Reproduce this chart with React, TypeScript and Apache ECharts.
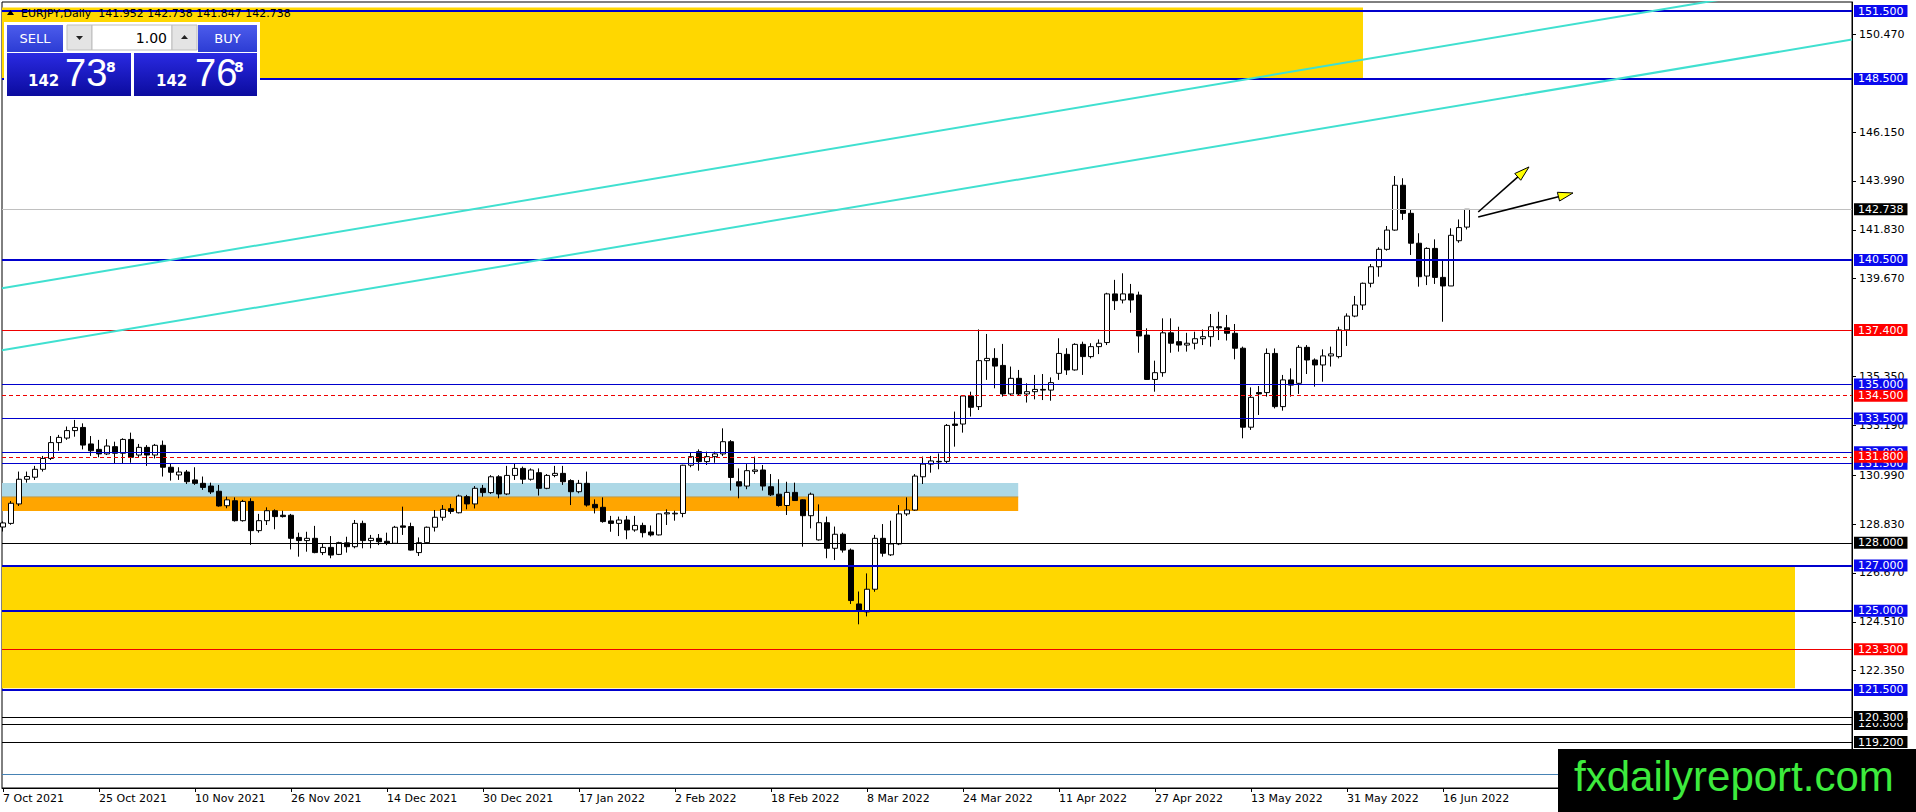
import React, { useEffect, useRef } from "react";
import * as echarts from "echarts";

// ---------- DATA ----------
const opens = [
  128.70, 128.86, 129.72, 130.81, 130.90, 131.25, 131.73, 132.43, 132.63, 132.96,
  133.10, 132.37, 132.13, 131.93, 132.25, 131.96, 132.57, 131.88, 132.22, 131.88,
  132.31, 131.34, 131.00, 131.13, 130.78, 130.63, 130.51, 130.28, 129.64, 129.86,
  128.98, 129.83, 128.54, 128.98, 129.42, 129.22, 129.22, 128.24, 128.10, 128.20,
  127.57, 127.80, 127.49, 128.00, 127.83, 128.86, 128.10, 128.20, 128.07, 127.98,
  128.75, 128.72, 127.57, 128.01, 128.69, 129.13, 129.51, 129.33, 130.04, 129.72,
  130.41, 130.22, 130.92, 130.16, 130.98, 131.29, 130.81, 131.10, 130.41, 130.98,
  131.07, 130.75, 130.26, 130.63, 129.70, 129.57, 128.97, 128.86, 129.01, 128.57,
  128.77, 128.48, 128.35, 129.28, 129.28, 129.30, 131.43, 132.03, 131.59, 131.81,
  131.93, 132.47, 130.70, 130.51, 131.16, 131.22, 130.48, 130.15, 129.65, 130.23,
  129.90, 129.20, 128.13, 128.89, 127.76, 128.38, 127.68, 125.30, 124.95, 125.95,
  128.20, 127.47, 127.95, 129.28, 129.45, 130.92, 131.48, 131.58, 131.60, 133.25,
  133.25, 134.49, 134.02, 136.05, 136.15, 135.84, 134.58, 135.27, 134.58, 134.68,
  134.78, 134.75, 135.49, 136.33, 135.64, 136.77, 136.23, 136.67, 136.85, 139.00,
  138.73, 139.00, 138.95, 137.18, 135.22, 135.52, 137.28, 136.89, 136.74, 136.82,
  137.02, 137.11, 137.55, 137.50, 137.26, 136.60, 133.11, 134.64, 134.64, 136.37,
  134.02, 135.20, 135.05, 136.64, 136.08, 135.86, 136.26, 136.23, 137.41, 138.02,
  138.51, 139.47, 140.20, 140.97, 141.82, 143.80, 142.56, 141.24, 139.79, 141.01,
  139.73, 139.35, 141.35, 141.952,
];
const highs = [
  128.95, 129.85, 131.15, 131.15, 131.40, 131.84, 132.72, 132.77, 133.14, 133.43,
  133.28, 132.72, 132.55, 132.58, 132.47, 132.62, 132.87, 132.37, 132.32, 132.37,
  132.52, 131.51, 131.34, 131.22, 131.34, 130.93, 130.66, 130.56, 130.04, 130.01,
  129.90, 129.97, 129.28, 129.57, 129.48, 129.42, 129.28, 128.45, 128.49, 128.75,
  127.98, 128.30, 128.05, 128.27, 129.01, 128.98, 128.35, 128.39, 128.45, 128.75,
  129.60, 128.89, 128.24, 128.72, 129.45, 129.67, 129.72, 130.13, 130.12, 130.51,
  130.56, 130.99, 130.99, 131.40, 131.51, 131.37, 131.29, 131.29, 131.04, 131.40,
  131.40, 130.81, 130.78, 131.15, 129.92, 130.01, 129.19, 129.16, 129.19, 129.19,
  128.89, 128.77, 129.30, 129.48, 129.42, 131.45, 131.98, 132.13, 132.03, 132.03,
  133.06, 132.54, 131.29, 131.48, 131.81, 131.44, 131.04, 130.81, 130.70, 130.66,
  129.92, 130.22, 129.70, 129.16, 128.72, 128.45, 127.75, 125.85, 126.65, 128.35,
  128.83, 128.98, 129.67, 130.01, 131.04, 131.81, 131.84, 131.95, 133.25, 133.80,
  134.53, 134.68, 137.43, 137.23, 136.60, 136.79, 135.79, 135.64, 135.05, 135.42,
  135.46, 135.31, 137.04, 136.60, 136.82, 136.89, 136.82, 136.99, 139.05, 139.62,
  139.91, 139.44, 139.10, 137.48, 136.05, 137.92, 137.92, 137.55, 137.28, 137.33,
  137.43, 138.11, 138.21, 138.07, 137.67, 136.67, 134.87, 134.93, 136.59, 136.59,
  135.42, 135.71, 136.74, 136.74, 136.15, 136.55, 136.67, 137.55, 138.14, 138.91,
  139.50, 140.32, 141.06, 142.00, 144.21, 144.11, 142.71, 141.68, 141.06, 141.41,
  140.47, 141.90, 142.29, 142.738,
];
const lows = [
  128.50, 128.80, 129.63, 130.66, 130.78, 131.15, 131.66, 132.07, 132.55, 132.69,
  132.13, 131.84, 131.78, 131.88, 131.49, 131.49, 131.54, 131.78, 131.40, 131.73,
  130.93, 130.75, 130.78, 130.60, 130.56, 130.34, 130.16, 129.60, 129.53, 128.94,
  128.94, 127.91, 128.45, 128.79, 128.60, 129.12, 127.71, 127.39, 127.61, 127.54,
  127.46, 127.32, 127.46, 127.57, 127.76, 127.76, 127.76, 127.90, 127.90, 127.95,
  128.35, 127.66, 127.42, 127.98, 128.50, 128.98, 129.28, 129.30, 129.48, 129.52,
  130.04, 130.16, 129.97, 130.11, 130.78, 130.60, 130.75, 130.09, 130.37, 130.90,
  130.56, 129.67, 130.19, 129.60, 129.30, 128.89, 128.49, 128.30, 128.16, 128.49,
  128.24, 128.28, 128.33, 128.79, 128.98, 129.13, 131.34, 131.19, 131.44, 131.54,
  131.84, 130.31, 129.97, 130.37, 131.04, 130.31, 130.07, 129.60, 129.23, 129.87,
  127.83, 128.64, 128.10, 127.32, 127.24, 127.57, 125.30, 124.40, 124.75, 125.84,
  127.39, 127.42, 127.90, 129.19, 129.42, 130.60, 131.10, 131.25, 131.50, 132.25,
  132.87, 133.58, 133.87, 135.20, 134.83, 134.46, 134.53, 134.49, 134.20, 134.34,
  134.31, 134.28, 135.20, 135.42, 135.61, 135.42, 136.15, 136.34, 136.74, 138.29,
  138.58, 138.17, 136.40, 135.20, 134.68, 135.34, 136.40, 136.45, 136.45, 136.55,
  136.74, 136.67, 136.96, 136.94, 136.11, 132.62, 132.99, 133.65, 134.46, 133.94,
  133.84, 134.46, 134.58, 135.46, 134.90, 135.12, 135.79, 136.15, 136.70, 137.97,
  138.29, 139.29, 139.76, 140.91, 141.79, 142.27, 140.72, 139.32, 139.39, 139.44,
  137.77, 139.35, 141.26, 141.847,
];
const closes = [
  128.88, 129.75, 130.81, 130.93, 131.25, 131.73, 132.43, 132.66, 132.96, 133.10,
  132.32, 132.07, 131.93, 132.28, 131.96, 132.57, 131.78, 132.22, 131.88, 132.31,
  131.34, 131.12, 131.13, 130.70, 130.63, 130.45, 130.25, 129.63, 129.90, 128.98,
  129.83, 128.54, 128.98, 129.42, 129.16, 129.16, 128.20, 128.10, 128.20, 127.57,
  127.80, 127.46, 128.01, 127.83, 128.86, 128.10, 128.20, 128.05, 127.98, 128.69,
  128.69, 127.68, 128.01, 128.69, 129.13, 129.48, 129.39, 130.07, 129.72, 130.41,
  130.22, 130.92, 130.16, 130.98, 131.29, 130.81, 131.22, 130.41, 130.98, 131.07,
  130.70, 130.26, 130.63, 129.67, 129.55, 128.94, 128.86, 129.01, 128.57, 128.77,
  128.45, 128.35, 129.28, 129.33, 129.31, 131.43, 131.81, 131.59, 131.81, 131.93,
  132.47, 130.89, 130.51, 131.19, 131.22, 130.51, 130.12, 129.65, 130.23, 129.87,
  129.20, 130.15, 128.89, 127.76, 128.38, 127.68, 125.45, 125.00, 125.95, 128.20,
  127.54, 127.95, 129.28, 129.45, 130.95, 131.48, 131.62, 131.60, 133.19, 133.19,
  134.49, 133.99, 136.05, 136.15, 135.81, 134.58, 135.27, 134.58, 134.68, 134.78,
  134.75, 135.08, 136.37, 135.64, 136.77, 136.23, 136.67, 136.82, 139.00, 138.70,
  139.00, 138.73, 137.14, 135.22, 135.52, 137.28, 136.82, 136.74, 136.82, 137.02,
  137.11, 137.55, 137.50, 137.26, 136.60, 133.11, 134.43, 134.58, 136.37, 134.02,
  135.20, 134.97, 136.64, 136.08, 135.86, 136.26, 136.35, 137.41, 138.02, 138.51,
  139.47, 140.20, 140.97, 141.82, 143.80, 142.56, 141.24, 139.76, 141.01, 139.73,
  139.35, 141.59, 141.93, 142.738,
];

// date labels every 12 bars
const dateIdx = [0, 12, 24, 36, 48, 60, 72, 84, 96, 108, 120, 132, 144, 156, 168, 180];
const dateLabels = [
  "7 Oct 2021", "25 Oct 2021", "10 Nov 2021", "26 Nov 2021", "14 Dec 2021", "30 Dec 2021",
  "17 Jan 2022", "2 Feb 2022", "18 Feb 2022", "8 Mar 2022", "24 Mar 2022", "11 Apr 2022",
  "27 Apr 2022", "13 May 2022", "31 May 2022", "16 Jun 2022",
];

// price scale tick labels
const priceTicks = [150.47, 146.15, 143.99, 141.83, 139.67, 135.35, 133.19, 130.99, 128.83, 126.67, 124.51, 122.35];

// horizontal levels: [price, kind]
const levelPrices = [151.5, 148.5, 140.5, 137.4, 135.0, 134.5, 133.5, 132.0, 131.5, 131.8, 128.0, 127.0, 125.0, 123.3, 121.5, 120.0, 120.3, 119.2, 117.79, 142.738];
const levelKinds = ["blueThick", "blueThick", "blueThick", "red", "blue", "redDash", "blue", "blue", "blue", "redDash", "black", "blueThick", "blueThick", "red", "blueThick", "black", "black", "black", "steel", "current"];

// zones: [fromBar, toBar, highPrice, lowPrice, kind]
const zoneFromBar = [-0.125, -0.125, -0.125, -0.125];
const zoneToBar = [170, 224, 126.9, 126.9];
const zoneHigh = [151.66, 127.0, 130.64, 130.03];
const zoneLow = [148.5, 121.58, 130.03, 129.41];
const zoneKinds = ["yellow", "yellow", "lightblue", "orange"];

// trendlines: bar index / price at both ends
const trendFromBar = [-0.125, -0.125];
const trendToBar = [231.125, 231.125];
const trendFromPrice = [139.25, 136.51];
const trendToPrice = [152.98, 150.24];

// arrows: bar index / price at both ends
const arrowFromBar = [184.4, 184.4];
const arrowFromPrice = [142.62, 142.40];
const arrowToBar = [190.75, 196.25];
const arrowToPrice = [144.61, 143.46];

const FONT = '"DejaVu Sans", sans-serif';

const kindStyle: Record<string, { line: string; width: number; type: string; bg: string | null }> = {
  blueThick: { line: "#0000CD", width: 2, type: "solid", bg: "#0A0AEE" },
  blue: { line: "#0000CD", width: 1, type: "solid", bg: "#0A0AEE" },
  red: { line: "#EE0000", width: 1, type: "solid", bg: "#FF0000" },
  redDash: { line: "#EE0000", width: 1, type: "dashed", bg: "#FF0000" },
  black: { line: "#000000", width: 1, type: "solid", bg: "#000000" },
  steel: { line: "#4682B4", width: 1, type: "solid", bg: null },
  current: { line: "#C0C0C0", width: 1, type: "solid", bg: "#000000" },
};
const zoneColor: Record<string, string> = {
  yellow: "#FFD700",
  lightblue: "#ADD8E6",
  orange: "#FFA500",
};

export default function App() {
  const ref = useRef<HTMLDivElement>(null);

  useEffect(() => {
    if (!ref.current) return;
    const chart = echarts.init(ref.current, null, { renderer: "svg" });

    const candleData = opens.map((o, i) => [i, o, closes[i], lows[i], highs[i]]);

    const levelData = levelPrices.map((p, i) => {
      const st = kindStyle[levelKinds[i]];
      return {
        yAxis: p,
        lineStyle: { color: st.line, width: st.width, type: st.type === "dashed" ? [4, 3] : "solid" },
        label: st.bg
          ? {
              show: true,
              position: "end",
              distance: 2,
              formatter: p.toFixed(3),
              backgroundColor: st.bg,
              color: "#fff",
              padding: [1, 4, 0, 4],
              fontSize: 11,
              lineHeight: 11,
              fontFamily: FONT,
            }
          : { show: false },
      };
    });

    const zoneData = zoneKinds.map((k, i) => [
      { coord: [zoneFromBar[i], zoneHigh[i]], itemStyle: { color: zoneColor[k], opacity: 1 } },
      { coord: [zoneToBar[i], zoneLow[i]] },
    ]);

    const trendSeries = trendFromBar.map((x0, i) => ({
      type: "line",
      data: [
        [x0, trendFromPrice[i]],
        [trendToBar[i], trendToPrice[i]],
      ],
      symbol: "none",
      lineStyle: { color: "#40E0D0", width: 2 },
      clip: true,
      silent: true,
      z: 5,
    }));

    const arrowData = arrowFromBar.map((x0, i) => [x0, arrowFromPrice[i], arrowToBar[i], arrowToPrice[i]]);

    const panelFontSmall = FONT;
    const priceFont = '"Liberation Sans Narrow", "Liberation Sans", sans-serif';

    const graphic: any[] = [
      // header
      {
        type: "polygon",
        z: 100,
        shape: { points: [[7, 15], [14, 15], [10.5, 10]] },
        style: { fill: "#000" },
      },
      {
        type: "text",
        z: 100,
        x: 21,
        y: 13,
        style: {
          text: "EURJPY,Daily  141.952 142.738 141.847 142.738",
          font: `11px ${FONT}`,
          fill: "#000",
          verticalAlign: "middle",
        },
      },
      // one-click panel
      { type: "rect", z: 100, shape: { x: 4, y: 22, width: 256, height: 76 }, style: { fill: "#fff" } },
      {
        type: "rect",
        z: 101,
        shape: { x: 7, y: 25, width: 56, height: 27 },
        style: {
          fill: new echarts.graphic.LinearGradient(0, 0, 0, 1, [
            { offset: 0, color: "#4c5cec" },
            { offset: 1, color: "#2c3cd4" },
          ]),
        },
      },
      {
        type: "text",
        z: 102,
        x: 35,
        y: 38,
        style: { text: "SELL", font: `13px ${panelFontSmall}`, fill: "#fff", align: "center", verticalAlign: "middle" },
      },
      { type: "rect", z: 101, shape: { x: 67, y: 25, width: 25, height: 25 }, style: { fill: "#E4E4E4", stroke: "#BDBDBD", lineWidth: 1 } },
      { type: "polygon", z: 102, shape: { points: [[76, 36], [83, 36], [79.5, 40]] }, style: { fill: "#222" } },
      { type: "rect", z: 101, shape: { x: 92, y: 25, width: 80, height: 25 }, style: { fill: "#fff", stroke: "#BDBDBD", lineWidth: 1 } },
      {
        type: "text",
        z: 102,
        x: 167,
        y: 37.5,
        style: { text: "1.00", font: `14px ${panelFontSmall}`, fill: "#000", align: "right", verticalAlign: "middle" },
      },
      { type: "rect", z: 101, shape: { x: 172, y: 25, width: 25, height: 25 }, style: { fill: "#E4E4E4", stroke: "#BDBDBD", lineWidth: 1 } },
      { type: "polygon", z: 102, shape: { points: [[181, 39], [188, 39], [184.5, 35]] }, style: { fill: "#222" } },
      {
        type: "rect",
        z: 101,
        shape: { x: 198, y: 25, width: 59, height: 27 },
        style: {
          fill: new echarts.graphic.LinearGradient(0, 0, 0, 1, [
            { offset: 0, color: "#4c5cec" },
            { offset: 1, color: "#2c3cd4" },
          ]),
        },
      },
      {
        type: "text",
        z: 102,
        x: 227.5,
        y: 38,
        style: { text: "BUY", font: `13px ${panelFontSmall}`, fill: "#fff", align: "center", verticalAlign: "middle" },
      },
      {
        type: "rect",
        z: 101,
        shape: { x: 7, y: 53, width: 124, height: 43 },
        style: {
          fill: new echarts.graphic.LinearGradient(0, 0, 0, 1, [
            { offset: 0, color: "#2a2ae2" },
            { offset: 1, color: "#0b0b9e" },
          ]),
        },
      },
      {
        type: "rect",
        z: 101,
        shape: { x: 134, y: 53, width: 123, height: 43 },
        style: {
          fill: new echarts.graphic.LinearGradient(0, 0, 0, 1, [
            { offset: 0, color: "#2a2ae2" },
            { offset: 1, color: "#0b0b9e" },
          ]),
        },
      },
      { type: "text", z: 102, x: 28, y: 88, style: { text: "142", font: `bold 15px ${panelFontSmall}`, fill: "#fff", verticalAlign: "bottom" } },
      { type: "text", z: 102, x: 65, y: 92, style: { text: "73", font: `38px ${priceFont}`, fill: "#fff", verticalAlign: "bottom" } },
      { type: "text", z: 102, x: 106, y: 60, style: { text: "8", font: `bold 14px ${panelFontSmall}`, fill: "#fff", verticalAlign: "top" } },
      { type: "text", z: 102, x: 156, y: 88, style: { text: "142", font: `bold 15px ${panelFontSmall}`, fill: "#fff", verticalAlign: "bottom" } },
      { type: "text", z: 102, x: 195, y: 92, style: { text: "76", font: `38px ${priceFont}`, fill: "#fff", verticalAlign: "bottom" } },
      { type: "text", z: 102, x: 234, y: 60, style: { text: "8", font: `bold 14px ${panelFontSmall}`, fill: "#fff", verticalAlign: "top" } },
      // watermark
      { type: "rect", z: 110, shape: { x: 1558, y: 749, width: 358, height: 63 }, style: { fill: "#000" } },
      {
        type: "text",
        z: 111,
        x: 1574,
        y: 776,
        style: {
          text: "fxdailyreport.com",
          font: '42px "Liberation Sans", Arial, sans-serif',
          fill: "#3DEB3D",
          verticalAlign: "middle",
        },
      },
    ];

    const option: any = {
      animation: false,
      backgroundColor: "#fff",
      grid: {
        left: 2,
        top: 2,
        width: 1850,
        height: 786,
        show: true,
        borderColor: "#000",
        borderWidth: 1,
        backgroundColor: "#fff",
      },
      xAxis: {
        type: "value",
        min: -0.125,
        max: 231.125,
        axisLine: { show: true, onZero: false, lineStyle: { color: "#000", width: 1 } },
        splitLine: { show: false },
        axisTick: { show: true, customValues: dateIdx, length: 4, lineStyle: { color: "#000" } },
        axisLabel: {
          customValues: dateIdx,
          formatter: (v: number) => {
            const k = dateIdx.indexOf(Math.round(v));
            return k >= 0 ? dateLabels[k] : "";
          },
          align: "left",
          margin: 5,
          color: "#000",
          fontSize: 11,
          fontFamily: FONT,
        },
      },
      yAxis: {
        type: "value",
        position: "right",
        min: 117.168,
        max: 151.898,
        axisLine: { show: true, onZero: false, lineStyle: { color: "#000", width: 1 } },
        splitLine: { show: false },
        axisTick: { show: true, customValues: priceTicks, length: 4, lineStyle: { color: "#000" } },
        axisLabel: {
          customValues: priceTicks,
          formatter: (v: number) => v.toFixed(3),
          margin: 7,
          color: "#000",
          fontSize: 11,
          fontFamily: FONT,
        },
      },
      series: [
        {
          type: "line",
          name: "zones",
          data: [],
          z: 1,
          silent: true,
          markArea: { silent: true, data: zoneData },
        },
        {
          type: "line",
          name: "zoneEdge",
          data: [
            [-0.125, 130.03],
            [126.9, 130.03],
          ],
          symbol: "none",
          lineStyle: { color: "#C09A48", width: 1 },
          z: 1.5,
          silent: true,
        },
        {
          type: "candlestick",
          name: "EURJPY",
          data: candleData,
          barWidth: 5,
          clip: true,
          z: 3,
          itemStyle: {
            color: "#ffffff",
            color0: "#000000",
            borderColor: "#000000",
            borderColor0: "#000000",
            borderColorDoji: "#000000",
            borderWidth: 1,
          },
        },
        {
          type: "line",
          name: "levels",
          data: [],
          z: 4,
          silent: true,
          markLine: {
            silent: true,
            symbol: ["none", "none"],
            precision: 3,
            data: levelData,
          },
        },
        ...trendSeries,
        {
          type: "custom",
          name: "arrows",
          data: arrowData,
          encode: { x: [0, 2], y: [1, 3] },
          clip: false,
          z: 6,
          silent: true,
          renderItem: (params: any, api: any) => {
            const s = api.coord([api.value(0), api.value(1)]);
            const e = api.coord([api.value(2), api.value(3)]);
            const dx = e[0] - s[0];
            const dy = e[1] - s[1];
            const len = Math.hypot(dx, dy) || 1;
            const ux = dx / len;
            const uy = dy / len;
            const hl = 15;
            const hw = 4.5;
            const bx = e[0] - ux * hl;
            const by = e[1] - uy * hl;
            const px = -uy;
            const py = ux;
            return {
              type: "group",
              children: [
                {
                  type: "line",
                  shape: { x1: s[0], y1: s[1], x2: bx + ux * 2, y2: by + uy * 2 },
                  style: { stroke: "#000", lineWidth: 1.6 },
                },
                {
                  type: "polygon",
                  shape: {
                    points: [
                      [e[0], e[1]],
                      [bx + px * hw, by + py * hw],
                      [bx - px * hw, by - py * hw],
                    ],
                  },
                  style: { fill: "#FFFF00", stroke: "#000", lineWidth: 1 },
                },
              ],
            };
          },
        },
      ],
      graphic,
    };

    chart.setOption(option);
    return () => chart.dispose();
  }, []);

  return (
    <div
      ref={ref}
      style={{ position: "fixed", left: 0, top: 0, width: 1916, height: 812, background: "#fff" }}
    />
  );
}
